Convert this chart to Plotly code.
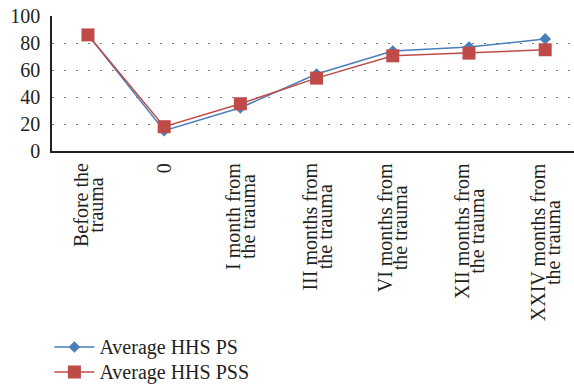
import plotly.graph_objects as go

# Hip score follow-up: two patient groups over time
categories = [
    ["Before the", "trauma"],
    ["0"],
    ["I month from", "the trauma"],
    ["III months from", "the trauma"],
    ["VI months from", "the trauma"],
    ["XII months from", "the trauma"],
    ["XXIV months from", "the trauma"],
]
series_names = ["Average HHS PS", "Average HHS PSS"]
hhs_ps = [86, 15, 32, 57, 74, 77, 83]
hhs_pss = [86, 18, 35, 54, 70.5, 72.5, 75]
y_ticks = [0, 20, 40, 60, 80, 100]

FONT = "Liberation Serif, Times New Roman, serif"
BLUE = "#4A7EBB"
RED = "#BE4B48"
TXT = "#231F20"

x_idx = list(range(len(categories)))


def big(s, px=20):
    return f"<span style='font-size:{px}px'>{s}</span>"


fig = go.Figure()
fig.add_trace(go.Scatter(
    x=x_idx, y=hhs_ps, name=big(series_names[0]), mode="lines+markers",
    line=dict(color=BLUE, width=1.5),
    marker=dict(symbol="diamond", size=9, color=BLUE),
))
fig.add_trace(go.Scatter(
    x=x_idx, y=hhs_pss, name=big(series_names[1]), mode="lines+markers",
    line=dict(color=RED, width=1.5),
    marker=dict(symbol="square", size=13, color=RED),
))

# Rotated, centred two-line category labels with tight line spacing
for i, lines in enumerate(categories):
    txt = "<br>".join(big(ln) for ln in lines)
    fig.add_annotation(
        x=i, xref="x", y=0, yref="paper", yanchor="top", xanchor="center",
        yshift=-10, text=txt, textangle=-90, showarrow=False,
        font=dict(family=FONT, size=11.5, color=TXT), align="center",
    )

fig.update_layout(
    width=574, height=387,
    margin=dict(l=52, r=0, t=16, b=236, autoexpand=False),
    paper_bgcolor="white", plot_bgcolor="white",
    font=dict(family=FONT, size=19, color=TXT),
    showlegend=True,
    legend=dict(
        x=-0.005, xref="paper", y=-1.322, yanchor="top", xanchor="left",
        font=dict(family=FONT, size=17, color=TXT),
        bgcolor="rgba(0,0,0,0)", itemwidth=40, tracegroupgap=0,
    ),
    xaxis=dict(
        range=[-0.472, 6.378], showticklabels=False, showgrid=False,
        zeroline=False, showline=True, linecolor="#231F20", linewidth=1.5,
        ticks="", fixedrange=True,
    ),
    yaxis=dict(
        range=[0, 100], tickvals=y_ticks, showline=True, linecolor="#231F20",
        linewidth=1.5, ticks="", zeroline=False,
        showgrid=True, gridcolor="#7F7F7F", gridwidth=1.2, griddash="1.5px,10.5px",
        tickfont=dict(family=FONT, size=20, color=TXT), ticklabelstandoff=6,
    ),
)

fig.write_html("out.html")
